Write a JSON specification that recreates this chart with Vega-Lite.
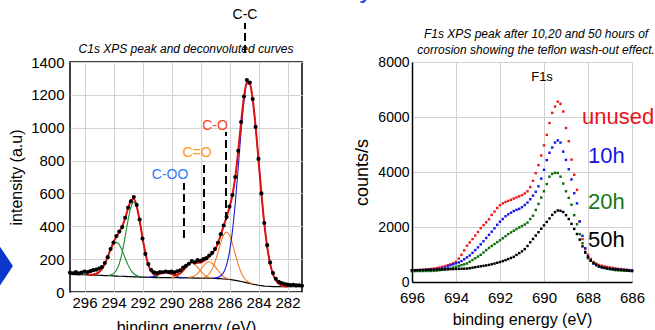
{
"$schema":"https://vega.github.io/schema/vega-lite/v6.json",
"padding":{"left":70,"top":62,"right":585,"bottom":268},
"autosize":{"type":"none"},
"background":"white",
"config":{"font":"Liberation Sans","axis":{"labelFont":"Liberation Sans","titleFont":"Liberation Sans","labelColor":"black","titleColor":"black","titleFontWeight":"normal","gridColor":"#d2d2d2","gridWidth":1,"labelOverlap":false,"labelFlush":false,"format":"d"},"text":{"font":"Liberation Sans"}},
"datasets":{
"c1s":[
{"e":297.0,"bg":107,"fit":null,"d":118},{"e":296.8,"bg":107,"fit":null,"d":114},{"e":296.6,"bg":106,"fit":null,"d":121},{"e":296.4,"bg":106,"fit":null,"d":113},{"e":296.2,"bg":105,"fit":null,"d":119},{"e":296.0,"bg":105,"fit":null,"d":124},{"e":295.8,"bg":104,"fit":104,"d":121},{"e":295.6,"bg":104,"fit":105,"d":127},{"e":295.4,"bg":103,"fit":106,"d":133},{"e":295.2,"bg":103,"fit":111,"d":136},{"e":295.0,"bg":102,"fit":121,"d":143},{"e":294.8,"bg":101,"fit":140,"d":152},{"e":294.6,"bg":100,"fit":171,"d":176},{"e":294.4,"bg":100,"fit":214,"d":212},{"e":294.2,"bg":99,"fit":261,"d":262},{"e":294.0,"bg":98,"fit":304,"d":301},{"e":293.8,"bg":97,"fit":337,"d":341},{"e":293.6,"bg":96,"fit":365,"d":368},{"e":293.4,"bg":96,"fit":399,"d":395},{"e":293.2,"bg":95,"fit":448,"d":452},{"e":293.0,"bg":94,"fit":507,"d":513},{"e":292.8,"bg":93,"fit":556,"d":552},{"e":292.6,"bg":92,"fit":566,"d":578},{"e":292.4,"bg":92,"fit":524,"d":530},{"e":292.2,"bg":91,"fit":436,"d":441},{"e":292.0,"bg":90,"fit":331,"d":325},{"e":291.8,"bg":90,"fit":236,"d":232},{"e":291.6,"bg":89,"fit":167,"d":170},{"e":291.4,"bg":89,"fit":127,"d":134},{"e":291.2,"bg":88,"fit":109,"d":120},{"e":291.0,"bg":88,"fit":106,"d":116},{"e":290.8,"bg":88,"fit":111,"d":122},{"e":290.6,"bg":88,"fit":117,"d":120},{"e":290.4,"bg":87,"fit":119,"d":125},{"e":290.2,"bg":87,"fit":116,"d":121},{"e":290.0,"bg":87,"fit":111,"d":124},{"e":289.8,"bg":87,"fit":105,"d":120},{"e":289.6,"bg":87,"fit":106,"d":126},{"e":289.4,"bg":86,"fit":114,"d":132},{"e":289.2,"bg":86,"fit":131,"d":148},{"e":289.0,"bg":86,"fit":151,"d":160},{"e":288.8,"bg":86,"fit":171,"d":172},{"e":288.6,"bg":86,"fit":182,"d":188},{"e":288.4,"bg":85,"fit":182,"d":180},{"e":288.2,"bg":85,"fit":178,"d":194},{"e":288.0,"bg":85,"fit":179,"d":190},{"e":287.8,"bg":85,"fit":187,"d":201},{"e":287.6,"bg":84,"fit":199,"d":206},{"e":287.4,"bg":84,"fit":216,"d":222},{"e":287.2,"bg":83,"fit":233,"d":238},{"e":287.0,"bg":83,"fit":258,"d":262},{"e":286.8,"bg":82,"fit":296,"d":300},{"e":286.6,"bg":81,"fit":347,"d":352},{"e":286.4,"bg":79,"fit":403,"d":405},{"e":286.2,"bg":78,"fit":458,"d":456},{"e":286.0,"bg":76,"fit":515,"d":520},{"e":285.8,"bg":74,"fit":589,"d":590},{"e":285.6,"bg":71,"fit":701,"d":700},{"e":285.4,"bg":68,"fit":856,"d":860},{"e":285.2,"bg":64,"fit":1032,"d":1035},{"e":285.0,"bg":60,"fit":1189,"d":1190},{"e":284.8,"bg":56,"fit":1278,"d":1290},{"e":284.6,"bg":52,"fit":1269,"d":1275},{"e":284.4,"bg":48,"fit":1172,"d":1175},{"e":284.2,"bg":45,"fit":1008,"d":1005},{"e":284.0,"bg":41,"fit":805,"d":810},{"e":283.8,"bg":39,"fit":600,"d":600},{"e":283.6,"bg":36,"fit":417,"d":420},{"e":283.4,"bg":35,"fit":275,"d":285},{"e":283.2,"bg":34,"fit":174,"d":180},{"e":283.0,"bg":33,"fit":108,"d":116},{"e":282.8,"bg":33,"fit":71,"d":80},{"e":282.6,"bg":33,"fit":50,"d":62},{"e":282.4,"bg":32,"fit":39,"d":55},{"e":282.2,"bg":32,"fit":35,"d":48},{"e":282.0,"bg":32,"fit":33,"d":45},{"e":281.8,"bg":32,"fit":null,"d":42},{"e":281.6,"bg":32,"fit":null,"d":44},{"e":281.4,"bg":32,"fit":null,"d":40},{"e":281.2,"bg":32,"fit":null,"d":41},{"e":281.0,"bg":32,"fit":null,"d":38}
],
"comp":[
{"p":"G1","e":295.6,"v":105},{"p":"G1","e":295.4,"v":106},{"p":"G1","e":295.2,"v":111},{"p":"G1","e":295.0,"v":121},{"p":"G1","e":294.8,"v":140},{"p":"G1","e":294.6,"v":171},{"p":"G1","e":294.4,"v":213},{"p":"G1","e":294.2,"v":256},{"p":"G1","e":294.0,"v":290},{"p":"G1","e":293.8,"v":302},{"p":"G1","e":293.6,"v":288},{"p":"G1","e":293.4,"v":253},{"p":"G1","e":293.2,"v":208},{"p":"G1","e":293.0,"v":165},{"p":"G1","e":292.8,"v":132},{"p":"G1","e":292.6,"v":111},{"p":"G1","e":292.4,"v":100},{"p":"G1","e":292.2,"v":94},{"p":"G1","e":292.0,"v":91},
{"p":"G2","e":294.4,"v":101},{"p":"G2","e":294.2,"v":104},{"p":"G2","e":294.0,"v":112},{"p":"G2","e":293.8,"v":132},{"p":"G2","e":293.6,"v":173},{"p":"G2","e":293.4,"v":242},{"p":"G2","e":293.2,"v":335},{"p":"G2","e":293.0,"v":436},{"p":"G2","e":292.8,"v":517},{"p":"G2","e":292.6,"v":547},{"p":"G2","e":292.4,"v":516},{"p":"G2","e":292.2,"v":433},{"p":"G2","e":292.0,"v":330},{"p":"G2","e":291.8,"v":236},{"p":"G2","e":291.6,"v":166},{"p":"G2","e":291.4,"v":124},{"p":"G2","e":291.2,"v":102},{"p":"G2","e":291.0,"v":93},{"p":"G2","e":290.8,"v":89},
{"p":"B1","e":291.6,"v":90},{"p":"B1","e":291.4,"v":92},{"p":"B1","e":291.2,"v":95},{"p":"B1","e":291.0,"v":101},{"p":"B1","e":290.8,"v":110},{"p":"B1","e":290.6,"v":117},{"p":"B1","e":290.4,"v":119},{"p":"B1","e":290.2,"v":116},{"p":"B1","e":290.0,"v":109},{"p":"B1","e":289.8,"v":100},{"p":"B1","e":289.6,"v":94},{"p":"B1","e":289.4,"v":89},{"p":"B1","e":289.2,"v":87},
{"p":"O1","e":290.0,"v":89},{"p":"O1","e":289.8,"v":92},{"p":"O1","e":289.6,"v":99},{"p":"O1","e":289.4,"v":111},{"p":"O1","e":289.2,"v":130},{"p":"O1","e":289.0,"v":151},{"p":"O1","e":288.8,"v":169},{"p":"O1","e":288.6,"v":176},{"p":"O1","e":288.4,"v":168},{"p":"O1","e":288.2,"v":150},{"p":"O1","e":288.0,"v":129},{"p":"O1","e":287.8,"v":110},{"p":"O1","e":287.6,"v":96},{"p":"O1","e":287.4,"v":89},{"p":"O1","e":287.2,"v":85},
{"p":"O2","e":288.8,"v":88},{"p":"O2","e":288.6,"v":92},{"p":"O2","e":288.4,"v":99},{"p":"O2","e":288.2,"v":113},{"p":"O2","e":288.0,"v":134},{"p":"O2","e":287.8,"v":158},{"p":"O2","e":287.6,"v":176},{"p":"O2","e":287.4,"v":184},{"p":"O2","e":287.2,"v":175},{"p":"O2","e":287.0,"v":156},{"p":"O2","e":286.8,"v":131},{"p":"O2","e":286.6,"v":109},{"p":"O2","e":286.4,"v":93},{"p":"O2","e":286.2,"v":84},{"p":"O2","e":286.0,"v":78},
{"p":"O3","e":288.0,"v":86},{"p":"O3","e":287.8,"v":89},{"p":"O3","e":287.6,"v":95},{"p":"O3","e":287.4,"v":111},{"p":"O3","e":287.2,"v":138},{"p":"O3","e":287.0,"v":183},{"p":"O3","e":286.8,"v":240},{"p":"O3","e":286.6,"v":301},{"p":"O3","e":286.4,"v":348},{"p":"O3","e":286.2,"v":365},{"p":"O3","e":286.0,"v":345},{"p":"O3","e":285.8,"v":294},{"p":"O3","e":285.6,"v":229},{"p":"O3","e":285.4,"v":168},{"p":"O3","e":285.2,"v":119},{"p":"O3","e":285.0,"v":87},{"p":"O3","e":284.8,"v":67},{"p":"O3","e":284.6,"v":56},{"p":"O3","e":284.4,"v":49},
{"p":"BM","e":287.2,"v":84},{"p":"BM","e":287.0,"v":85},{"p":"BM","e":286.8,"v":89},{"p":"BM","e":286.6,"v":99},{"p":"BM","e":286.4,"v":120},{"p":"BM","e":286.2,"v":165},{"p":"BM","e":286.0,"v":244},{"p":"BM","e":285.8,"v":369},{"p":"BM","e":285.6,"v":543},{"p":"BM","e":285.4,"v":756},{"p":"BM","e":285.2,"v":977},{"p":"BM","e":285.0,"v":1162},{"p":"BM","e":284.8,"v":1267},{"p":"BM","e":284.6,"v":1265},{"p":"BM","e":284.4,"v":1171},{"p":"BM","e":284.2,"v":1008},{"p":"BM","e":284.0,"v":805},{"p":"BM","e":283.8,"v":600},{"p":"BM","e":283.6,"v":417},{"p":"BM","e":283.4,"v":275},{"p":"BM","e":283.2,"v":174},{"p":"BM","e":283.0,"v":108},{"p":"BM","e":282.8,"v":71},{"p":"BM","e":282.6,"v":50},{"p":"BM","e":282.4,"v":39},{"p":"BM","e":282.2,"v":35},{"p":"BM","e":282.0,"v":33}
],
"ann":[{"lab":"C-C","e":284.93,"y":1455,"y2":1637},{"lab":"C-O","e":286.24,"y":438,"y2":974},{"lab":"C=O","e":287.76,"y":359,"y2":791},{"lab":"C-OO","e":289.14,"y":329,"y2":663}],
"annText":[{"lab":"C-C","e":284.93,"y":1686},{"lab":"C-O","e":287.0,"y":1010},{"lab":"C=O","e":288.24,"y":846},{"lab":"C-OO","e":290.1,"y":712}],
"deco":[{"t":"Surface analysis: XPS","e":278.24,"y":1787}],
"ptitle":[{"t":"C1s XPS peak and deconvoluted curves","e":289.0,"y":1479}],
"arrow":[{"e":301.97,"y":158}],
"f1s":[
{"e":696.0,"u":420,"h10":420,"h20":395,"h50":428},{"e":695.875,"u":425,"h10":422,"h20":396,"h50":430},{"e":695.75,"u":430,"h10":425,"h20":397,"h50":433},{"e":695.625,"u":435,"h10":428,"h20":398,"h50":436},{"e":695.5,"u":440,"h10":432,"h20":400,"h50":440},{"e":695.375,"u":450,"h10":436,"h20":401,"h50":443},{"e":695.25,"u":462,"h10":440,"h20":402,"h50":446},{"e":695.125,"u":474,"h10":443,"h20":404,"h50":449},{"e":695.0,"u":487,"h10":446,"h20":405,"h50":452},{"e":694.875,"u":505,"h10":460,"h20":415,"h50":454},{"e":694.75,"u":528,"h10":475,"h20":428,"h50":456},{"e":694.625,"u":552,"h10":492,"h20":442,"h50":459},{"e":694.5,"u":580,"h10":512,"h20":456,"h50":462},{"e":694.375,"u":612,"h10":560,"h20":472,"h50":465},{"e":694.25,"u":645,"h10":610,"h20":490,"h50":468},{"e":694.125,"u":680,"h10":645,"h20":520,"h50":471},{"e":694.0,"u":730,"h10":680,"h20":552,"h50":474},{"e":693.875,"u":850,"h10":712,"h20":582,"h50":477},{"e":693.75,"u":990,"h10":760,"h20":612,"h50":480},{"e":693.625,"u":1150,"h10":830,"h20":642,"h50":484},{"e":693.5,"u":1320,"h10":895,"h20":674,"h50":488},{"e":693.375,"u":1440,"h10":965,"h20":735,"h50":500},{"e":693.25,"u":1560,"h10":1060,"h20":800,"h50":520},{"e":693.125,"u":1690,"h10":1160,"h20":865,"h50":538},{"e":693.0,"u":1820,"h10":1260,"h20":925,"h50":555},{"e":692.875,"u":1960,"h10":1370,"h20":990,"h50":572},{"e":692.75,"u":2070,"h10":1480,"h20":1075,"h50":588},{"e":692.625,"u":2170,"h10":1600,"h20":1160,"h50":604},{"e":692.5,"u":2280,"h10":1715,"h20":1240,"h50":622},{"e":692.375,"u":2440,"h10":1830,"h20":1310,"h50":645},{"e":692.25,"u":2560,"h10":1950,"h20":1380,"h50":670},{"e":692.125,"u":2690,"h10":2080,"h20":1450,"h50":700},{"e":692.0,"u":2790,"h10":2190,"h20":1516,"h50":727},{"e":691.875,"u":2860,"h10":2290,"h20":1590,"h50":760},{"e":691.75,"u":2910,"h10":2390,"h20":1665,"h50":795},{"e":691.625,"u":2950,"h10":2460,"h20":1740,"h50":835},{"e":691.5,"u":2990,"h10":2520,"h20":1805,"h50":875},{"e":691.375,"u":3035,"h10":2580,"h20":1865,"h50":915},{"e":691.25,"u":3075,"h10":2625,"h20":1925,"h50":985},{"e":691.125,"u":3115,"h10":2660,"h20":1985,"h50":1050},{"e":691.0,"u":3160,"h10":2720,"h20":2035,"h50":1115},{"e":690.875,"u":3220,"h10":2800,"h20":2090,"h50":1195},{"e":690.75,"u":3300,"h10":2890,"h20":2160,"h50":1310},{"e":690.625,"u":3450,"h10":3010,"h20":2290,"h50":1445},{"e":690.5,"u":3680,"h10":3140,"h20":2410,"h50":1565},{"e":690.375,"u":3960,"h10":3280,"h20":2620,"h50":1690},{"e":690.25,"u":4250,"h10":3480,"h20":2840,"h50":1810},{"e":690.125,"u":4600,"h10":3760,"h20":3070,"h50":1935},{"e":690.0,"u":4970,"h10":4080,"h20":3300,"h50":2060},{"e":689.875,"u":5350,"h10":4430,"h20":3560,"h50":2185},{"e":689.75,"u":5780,"h10":4700,"h20":3830,"h50":2310},{"e":689.625,"u":6150,"h10":4890,"h20":3930,"h50":2440},{"e":689.5,"u":6380,"h10":5070,"h20":3970,"h50":2540},{"e":689.375,"u":6560,"h10":5150,"h20":3965,"h50":2600},{"e":689.25,"u":6480,"h10":5070,"h20":3830,"h50":2590},{"e":689.125,"u":6200,"h10":4740,"h20":3580,"h50":2545},{"e":689.0,"u":5600,"h10":4440,"h20":3300,"h50":2430},{"e":688.875,"u":5120,"h10":4100,"h20":3060,"h50":2290},{"e":688.75,"u":4450,"h10":3730,"h20":2810,"h50":2115},{"e":688.625,"u":3900,"h10":3230,"h20":2430,"h50":1930},{"e":688.5,"u":3350,"h10":2860,"h20":2100,"h50":1745},{"e":688.375,"u":2200,"h10":2200,"h20":1740,"h50":1540},{"e":688.25,"u":1560,"h10":1680,"h20":1410,"h50":1295},{"e":688.125,"u":1200,"h10":1230,"h20":1060,"h50":1085},{"e":688.0,"u":990,"h10":930,"h20":865,"h50":910},{"e":687.875,"u":840,"h10":790,"h20":770,"h50":780},{"e":687.75,"u":725,"h10":665,"h20":690,"h50":690},{"e":687.625,"u":670,"h10":610,"h20":615,"h50":625},{"e":687.5,"u":620,"h10":570,"h20":575,"h50":565},{"e":687.375,"u":590,"h10":540,"h20":540,"h50":535},{"e":687.25,"u":565,"h10":510,"h20":510,"h50":515},{"e":687.125,"u":545,"h10":485,"h20":485,"h50":495},{"e":687.0,"u":530,"h10":475,"h20":465,"h50":480},{"e":686.875,"u":515,"h10":468,"h20":450,"h50":470},{"e":686.75,"u":495,"h10":460,"h20":430,"h50":460},{"e":686.625,"u":480,"h10":452,"h20":423,"h50":450},{"e":686.5,"u":470,"h10":446,"h20":418,"h50":442},{"e":686.375,"u":455,"h10":440,"h20":413,"h50":432},{"e":686.25,"u":445,"h10":435,"h20":408,"h50":420},{"e":686.125,"u":435,"h10":430,"h20":404,"h50":410},{"e":686.0,"u":425,"h10":425,"h20":400,"h50":400}
],
"f1sLab":[{"t":"unused","e":688.27,"c":5989},{"t":"10h","e":688.0,"c":4600},{"t":"20h","e":688.0,"c":2910},{"t":"50h","e":688.0,"c":1542}],
"f1sTag":[{"t":"F1s","e":690.09,"c":7444}],
"f1sTitle":[{"t":"F1s XPS peak after 10,20 and 50 hours of","e":690.36,"c":9018},{"t":"corrosion showing the teflon wash-out effect.","e":690.36,"c":8436}]
},
"spacing":110,
"bounds":"flush",
"hconcat":[
{
"width":232,"height":230,
"view":{"stroke":"black","strokeWidth":1.5},
"resolve":{"scale":{"color":"independent"}},
"encoding":{
"x":{"field":"e","type":"quantitative","title":"binding energy (eV)","scale":{"domain":[281,297],"reverse":true,"nice":false,"zero":false},"axis":{"values":[282,284,286,288,290,292,294,296],"labelFontSize":15,"labelPadding":3,"titleFontSize":16,"titlePadding":9,"ticks":false,"domain":false,"grid":true,"labelOverlap":false}}
},
"layer":[
{"data":{"name":"c1s"},"mark":{"type":"line","color":"black","strokeWidth":1.2},"encoding":{"y":{"field":"bg","type":"quantitative","title":"intensity (a.u)","scale":{"domain":[0,1400],"nice":false},"axis":{"values":[0,200,400,600,800,1000,1200,1400],"labelFontSize":15,"labelPadding":6,"titleFontSize":16,"titlePadding":6,"ticks":false,"domain":false,"grid":true,"labelOverlap":false}}}},
{"data":{"name":"comp"},"mark":{"type":"line","strokeWidth":1.1,"interpolate":"monotone"},"encoding":{"y":{"field":"v","type":"quantitative","title":"intensity (a.u)","axis":{"values":[0,200,400,600,800,1000,1200,1400],"labelFontSize":15,"labelPadding":6,"titleFontSize":16,"titlePadding":6,"ticks":false,"domain":false,"grid":true,"labelOverlap":false}},"detail":{"field":"p"},"color":{"field":"p","type":"nominal","legend":null,"scale":{"domain":["G1","G2","B1","O1","O2","O3","BM"],"range":["#1e8a2a","#1e8a2a","#1a1ad8","#f57a20","#f57a20","#f57a20","#1a1ad8"]}}}},
{"data":{"name":"c1s"},"transform":[{"filter":"datum.fit != null"}],"mark":{"type":"line","color":"#e01010","strokeWidth":2,"interpolate":"monotone"},"encoding":{"y":{"field":"fit","type":"quantitative","title":"intensity (a.u)","axis":{"values":[0,200,400,600,800,1000,1200,1400],"labelFontSize":15,"labelPadding":6,"titleFontSize":16,"titlePadding":6,"ticks":false,"domain":false,"grid":true,"labelOverlap":false}}}},
{"data":{"name":"c1s"},"mark":{"type":"point","filled":true,"color":"black","size":17,"opacity":1},"encoding":{"y":{"field":"d","type":"quantitative","title":"intensity (a.u)","axis":{"values":[0,200,400,600,800,1000,1200,1400],"labelFontSize":15,"labelPadding":6,"titleFontSize":16,"titlePadding":6,"ticks":false,"domain":false,"grid":true,"labelOverlap":false}}}},
{"data":{"name":"ann"},"mark":{"type":"rule","color":"black","strokeWidth":2,"strokeDash":[8,4]},"encoding":{"y":{"field":"y","type":"quantitative","title":"intensity (a.u)","axis":{"values":[0,200,400,600,800,1000,1200,1400],"labelFontSize":15,"labelPadding":6,"titleFontSize":16,"titlePadding":6,"ticks":false,"domain":false,"grid":true,"labelOverlap":false}},"y2":{"field":"y2"}}},
{"data":{"name":"annText"},"mark":{"type":"text","fontSize":14,"baseline":"middle","align":"center"},"encoding":{"y":{"field":"y","type":"quantitative","title":"intensity (a.u)","axis":{"values":[0,200,400,600,800,1000,1200,1400],"labelFontSize":15,"labelPadding":6,"titleFontSize":16,"titlePadding":6,"ticks":false,"domain":false,"grid":true,"labelOverlap":false}},"text":{"field":"lab"},"color":{"field":"lab","type":"nominal","legend":null,"scale":{"domain":["C-C","C-O","C=O","C-OO"],"range":["#000000","#ff4020","#ff9a10","#2a7aff"]}}}},
{"data":{"name":"ptitle"},"mark":{"type":"text","fontSize":12,"fontStyle":"italic","baseline":"middle","align":"center","color":"black"},"encoding":{"y":{"field":"y","type":"quantitative","title":"intensity (a.u)","axis":{"values":[0,200,400,600,800,1000,1200,1400],"labelFontSize":15,"labelPadding":6,"titleFontSize":16,"titlePadding":6,"ticks":false,"domain":false,"grid":true,"labelOverlap":false}},"text":{"field":"t"}}},
{"data":{"name":"deco"},"mark":{"type":"text","fontSize":26,"baseline":"alphabetic","align":"center","color":"#1448e8"},"encoding":{"y":{"field":"y","type":"quantitative","title":"intensity (a.u)","axis":{"values":[0,200,400,600,800,1000,1200,1400],"labelFontSize":15,"labelPadding":6,"titleFontSize":16,"titlePadding":6,"ticks":false,"domain":false,"grid":true,"labelOverlap":false}},"text":{"field":"t"}}},
{"data":{"name":"arrow"},"mark":{"type":"point","shape":"M 0 -1.5 L 1 0 L 0 1.5 L -1 0 Z","filled":true,"color":"#0a38cc","size":900,"opacity":1},"encoding":{"y":{"field":"y","type":"quantitative","title":"intensity (a.u)","axis":{"values":[0,200,400,600,800,1000,1200,1400],"labelFontSize":15,"labelPadding":6,"titleFontSize":16,"titlePadding":6,"ticks":false,"domain":false,"grid":true,"labelOverlap":false}}}}
]
},
{
"width":220,"height":220,
"view":{"stroke":null},
"resolve":{"scale":{"color":"independent"}},
"encoding":{
"x":{"field":"e","type":"quantitative","title":"binding energy (eV)","scale":{"domain":[686,696],"reverse":true,"nice":false,"zero":false},"axis":{"values":[686,688,690,692,694,696],"labelFontSize":15,"labelPadding":8,"titleFontSize":16,"titlePadding":6,"ticks":false,"domain":true,"domainColor":"black","domainWidth":1.5,"grid":true,"labelOverlap":false}}
},
"layer":[
{"data":{"name":"f1s"},"transform":[{"fold":["u","h10","h20","h50"],"as":["s","c"]}],"mark":{"type":"point","shape":"square","filled":true,"size":6,"opacity":1},"encoding":{"y":{"field":"c","type":"quantitative","title":"counts/s","scale":{"domain":[0,8000],"nice":false},"axis":{"values":[0,2000,4000,6000,8000],"labelFontSize":14,"labelPadding":3,"titleFontSize":18,"titlePadding":6,"ticks":false,"domain":true,"domainColor":"black","domainWidth":1.5,"grid":true,"labelOverlap":false}},"color":{"field":"s","type":"nominal","legend":null,"scale":{"domain":["u","h10","h20","h50"],"range":["#ee1a1a","#1a1aee","#0b6e0b","#000000"]}}}},
{"data":{"name":"f1sLab"},"mark":{"type":"text","fontSize":22,"align":"left","baseline":"middle"},"encoding":{"y":{"field":"c","type":"quantitative","title":"counts/s","axis":{"values":[0,2000,4000,6000,8000],"labelFontSize":14,"labelPadding":3,"titleFontSize":18,"titlePadding":6,"ticks":false,"domain":true,"domainColor":"black","domainWidth":1.5,"grid":true,"labelOverlap":false}},"text":{"field":"t"},"color":{"field":"t","type":"nominal","legend":null,"scale":{"domain":["unused","10h","20h","50h"],"range":["#e8141c","#1414e6","#137a13","#000000"]}}}},
{"data":{"name":"f1sTag"},"mark":{"type":"text","fontSize":13,"align":"center","baseline":"middle","color":"black"},"encoding":{"y":{"field":"c","type":"quantitative","title":"counts/s","axis":{"values":[0,2000,4000,6000,8000],"labelFontSize":14,"labelPadding":3,"titleFontSize":18,"titlePadding":6,"ticks":false,"domain":true,"domainColor":"black","domainWidth":1.5,"grid":true,"labelOverlap":false}},"text":{"field":"t"}}},
{"data":{"name":"f1sTitle"},"mark":{"type":"text","fontSize":12,"fontStyle":"italic","align":"center","baseline":"middle","color":"black"},"encoding":{"y":{"field":"c","type":"quantitative","title":"counts/s","axis":{"values":[0,2000,4000,6000,8000],"labelFontSize":14,"labelPadding":3,"titleFontSize":18,"titlePadding":6,"ticks":false,"domain":true,"domainColor":"black","domainWidth":1.5,"grid":true,"labelOverlap":false}},"text":{"field":"t"}}}
]
}
]
}
